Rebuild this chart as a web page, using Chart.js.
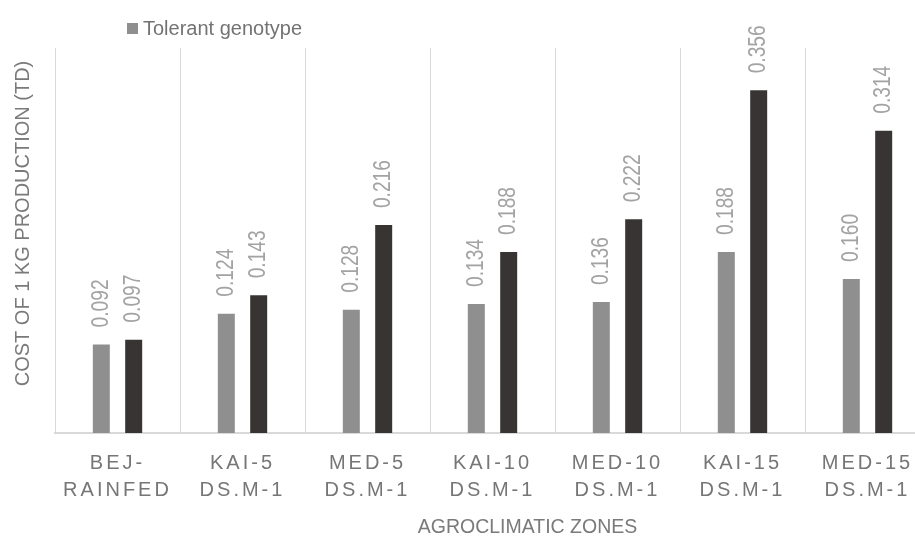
<!DOCTYPE html>
<html>
<head>
<meta charset="utf-8">
<script src="https://cdn.jsdelivr.net/npm/chart.js@4"></script>
<style>
  html, body { margin: 0; padding: 0; background: #fff; overflow: hidden; }
  #wrap { width: 940px; height: 539px; }
</style>
</head>
<body>
<div id="wrap"><canvas id="myChart"></canvas></div>
<script>
// zones on the x axis (two-line labels)
var zones = [
  ['BEJ-', 'RAINFED'],
  ['KAI-5', 'DS.M-1'],
  ['MED-5', 'DS.M-1'],
  ['KAI-10', 'DS.M-1'],
  ['MED-10', 'DS.M-1'],
  ['KAI-15', 'DS.M-1'],
  ['MED-15', 'DS.M-1']
];
// cost of 1 kg production (TD)
var tolerant = [0.092, 0.124, 0.128, 0.134, 0.136, 0.188, 0.160];
var sensitive = [0.097, 0.143, 0.216, 0.188, 0.222, 0.356, 0.314];

var xTitle = 'AGROCLIMATIC ZONES';
var yTitle = 'COST OF 1 KG PRODUCTION (TD)';

var GRID = '#d9d9d9';
var FONT = '"Liberation Sans", Arial, sans-serif';

// x tick labels are drawn with wide letter spacing
var spacedTicks = {
  id: 'spacedTicks',
  afterLayout: function (chart) {
    var scale = chart.scales.x;
    if (scale._spaced) return;
    var orig = scale.drawLabels.bind(scale);
    scale.drawLabels = function (area) {
      var c = this.ctx;
      c.save();
      c.letterSpacing = '3px';
      orig(area);
      c.restore();
    };
    scale._spaced = true;
  }
};

// rotated value labels above each bar (condensed digits)
var barValues = {
  id: 'barValues',
  afterDatasetsDraw: function (chart) {
    var c = chart.ctx;
    c.save();
    c.font = '23px ' + FONT;
    c.fillStyle = '#a3a3a3';
    c.textAlign = 'left';
    c.textBaseline = 'middle';
    chart.data.datasets.forEach(function (ds, i) {
      chart.getDatasetMeta(i).data.forEach(function (bar, j) {
        c.save();
        c.translate(bar.x, bar.y - 17);
        c.rotate(-Math.PI / 2);
        c.scale(0.835, 1);
        c.fillText(ds.data[j].toFixed(3), 0, 0);
        c.restore();
      });
    });
    c.restore();
  }
};

// legend entry and axis titles
var chartText = {
  id: 'chartText',
  afterDraw: function (chart) {
    var c = chart.ctx;
    var area = chart.chartArea;
    var ds = chart.data.datasets[0];
    var lx = area.left + 72;
    c.save();
    c.fillStyle = ds.backgroundColor;
    c.fillRect(lx, 23, 11, 11);
    c.font = '20px ' + FONT;
    c.fillStyle = '#737373';
    c.textBaseline = 'middle';
    c.fillText(ds.label, lx + 16, 29);

    c.fillStyle = '#7a7a7a';
    c.textAlign = 'center';
    c.font = '19.5px ' + FONT;
    c.fillText(xTitle, (area.left + area.right) / 2 + 35, 527.5);

    c.font = '20px ' + FONT;
    c.translate(23, (area.top + area.bottom) / 2 - 17);
    c.rotate(-Math.PI / 2);
    c.fillText(yTitle, 0, 0);
    c.restore();
  }
};

var ctx = document.getElementById('myChart').getContext('2d');
var chart = new Chart(ctx, {
  type: 'bar',
  data: {
    labels: zones,
    datasets: [{
      label: 'Tolerant genotype',
      backgroundColor: '#8f8f8f',
      data: tolerant
    }, {
      label: 'Sensitive genotype',
      backgroundColor: '#393434',
      data: sensitive
    }]
  },
  options: {
    responsive: true,
    maintainAspectRatio: false,
    animation: false,
    categoryPercentage: 0.518,
    barPercentage: 0.525,
    layout: { padding: { top: 48, right: 10, bottom: 18, left: 55 } },
    plugins: {
      legend: { display: false },
      tooltip: { enabled: false }
    },
    scales: {
      x: {
        grid: { display: true, offset: true, color: GRID, lineWidth: 1, drawTicks: false },
        border: { display: true, color: GRID, width: 2 },
        ticks: {
          color: '#767676',
          font: { family: FONT, size: 20, lineHeight: 1.35 },
          padding: 17,
          maxRotation: 0,
          autoSkip: false
        }
      },
      y: {
        min: 0,
        max: 0.4,
        grid: { display: false, drawTicks: false },
        border: { display: true, color: GRID, width: 1 },
        ticks: { display: false }
      }
    }
  },
  plugins: [spacedTicks, barValues, chartText]
});
</script>
</body>
</html>
